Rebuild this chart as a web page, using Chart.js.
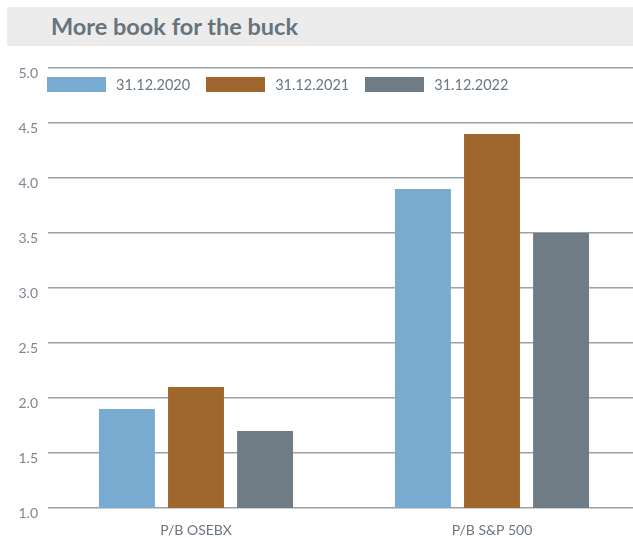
<!DOCTYPE html>
<html>
<head>
<meta charset="utf-8">
<script src="https://cdn.jsdelivr.net/npm/chart.js@4.4.0/dist/chart.umd.min.js"></script>
<style>
  html, body { margin: 0; padding: 0; background: #fff; overflow: hidden; }
  #wrap { position: relative; width: 633px; height: 538px; overflow: hidden; }
  #title {
    position: absolute; left: 7px; top: 7px; width: 626px; height: 39px;
    background: #ececec; box-sizing: border-box; padding-left: 44px;
    font-family: Lato, sans-serif; font-weight: bold; font-size: 23.5px;
    line-height: 38px; color: #67737d;
  }
  #box { position: absolute; left: 0; top: 0; width: 640px; height: 538px; }
  #legend {
    position: absolute; left: 47px; top: 76px; display: flex; align-items: center;
    font-family: Lato, sans-serif; font-size: 14.5px; color: #6b7680;
  }
  #legend .item { display: flex; align-items: center; margin-right: 16px; }
  #legend .swatch { width: 59px; height: 15px; margin-right: 10px; }
</style>
</head>
<body>
<div id="wrap">
  <div id="title">More book for the buck</div>
  <div id="box"><canvas id="chart"></canvas></div>
  <div id="legend"></div>
</div>
<script>
  var categories = ['P/B OSEBX', 'P/B S&P 500'];
  var seriesLabels = ['31.12.2020', '31.12.2021', '31.12.2022'];
  var pb2020 = [1.9, 3.9];
  var pb2021 = [2.1, 4.4];
  var pb2022 = [1.7, 3.5];
  var seriesColors = ['#78abcf', '#9f672d', '#6f7b85'];

  var seriesData = [pb2020, pb2021, pb2022];
  var datasets = seriesLabels.map(function (label, i) {
    return {
      label: label,
      data: seriesData[i],
      backgroundColor: seriesColors[i],
      borderWidth: 0,
      categoryPercentage: 0.7,
      barPercentage: 0.81
    };
  });

  var chart = new Chart(document.getElementById('chart'), {
    type: 'bar',
    data: { labels: categories, datasets: datasets },
    options: {
      responsive: true,
      maintainAspectRatio: false,
      animation: false,
      layout: { padding: { top: 68, bottom: 0, left: 0, right: 0 } },
      plugins: {
        legend: { display: false },
        title: { display: false },
        tooltip: { enabled: false }
      },
      scales: {
        x: {
          grid: { display: false, drawTicks: false },
          border: { display: false },
          ticks: {
            color: '#6b7680',
            font: { family: 'Lato', size: 14 },
            padding: 14
          },
          afterFit: function (scale) { scale.height = 30; }
        },
        y: {
          min: 1,
          max: 5,
          grid: { color: '#9aa1a8', lineWidth: 1.5, drawTicks: false },
          border: { display: false },
          ticks: {
            stepSize: 0.5,
            color: '#7d8790',
            font: { family: 'Lato', size: 14 },
            padding: 10,
            labelOffset: 5,
            callback: function (v) { return Number(v).toFixed(1); }
          },
          afterFit: function (scale) { scale.width = 48; }
        }
      }
    }
  });

  // HTML legend drawn over the plot, as in the original
  var legend = document.getElementById('legend');
  seriesLabels.forEach(function (label, i) {
    var item = document.createElement('div');
    item.className = 'item';
    var sw = document.createElement('span');
    sw.className = 'swatch';
    sw.style.background = seriesColors[i];
    var txt = document.createElement('span');
    txt.textContent = label;
    item.appendChild(sw);
    item.appendChild(txt);
    legend.appendChild(item);
  });
</script>
</body>
</html>
